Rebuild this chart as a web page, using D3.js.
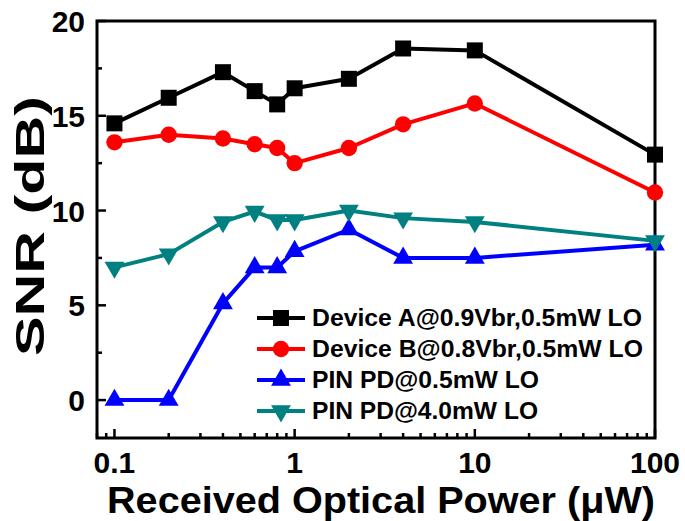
<!DOCTYPE html>
<html><head><meta charset="utf-8">
<script src="https://cdn.jsdelivr.net/npm/d3@7"></script>
<style>body{margin:0;background:#fff}svg{display:block}text{font-family:"Liberation Sans",Arial,sans-serif;font-weight:bold}</style>
</head><body><svg id="c" width="685" height="521"></svg>
<script>
const xA = [0.1,0.2,0.4,0.6,0.8,1,2,4,10,100];
const yA = [14.6,15.95,17.3,16.3,15.6,16.45,16.95,18.55,18.45,12.95];
const xB = [0.1,0.2,0.4,0.6,0.8,1,2,4,10,100];
const yB = [13.6,14.0,13.8,13.5,13.3,12.5,13.3,14.55,15.65,10.95];
const xC = [0.1,0.2,0.4,0.6,0.8,1,2,4,10,100];
const yC = [0,0,5.1,7.0,7.0,7.85,9.0,7.5,7.5,8.2];
const xD = [0.1,0.2,0.4,0.6,0.8,1,2,4,10,100];
const yD = [7.0,7.7,9.4,9.95,9.5,9.5,10.0,9.6,9.4,8.4];
const seriesNames = ["Device A@0.9Vbr,0.5mW LO","Device B@0.8Vbr,0.5mW LO","PIN PD@0.5mW LO","PIN PD@4.0mW LO"];
const xTickLabels = ["0.1","1","10","100"];
const xTickVals = [0.1,1,10,100];
const yTickVals = [0,5,10,15,20];
const xTitle = "Received Optical Power (\u03bcW)";
const yTitle = "SNR (dB)";

const colors = ["#000000","#ff0000","#0000ff","#008080"];
const shapes = ["square","circle","up","down"];
const legendTextWidths = [330,331,227,226];
const L=97,R=655,T=21,B=438;
const svg=d3.select("#c");
const x=d3.scaleLog().domain([0.08,100]).range([L,R]);
const y=d3.scaleLinear().domain([-2,20]).range([B,T]);

// minor ticks
const xMinor=[];
[0.01,0.1,1,10].forEach(d=>{for(let k=2;k<=9;k++){const v=d*k;if(v>=0.08&&v<100&&!xTickVals.includes(v))xMinor.push(v);}});
const g=svg.append("g");
g.selectAll(".xmin").data(xMinor).enter().append("line").attr("x1",d=>x(d)).attr("x2",d=>x(d)).attr("y1",B).attr("y2",B-5).attr("stroke","#000").attr("stroke-width",2.5);
g.selectAll(".xmaj").data(xTickVals).enter().append("line").attr("x1",d=>x(d)).attr("x2",d=>x(d)).attr("y1",B).attr("y2",B-9).attr("stroke","#000").attr("stroke-width",2.5);
const yMinor=[2.5,7.5,12.5,17.5];
g.selectAll(".ymin").data(yMinor).enter().append("line").attr("x1",L).attr("x2",L+5).attr("y1",d=>y(d)).attr("y2",d=>y(d)).attr("stroke","#000").attr("stroke-width",2.5);
g.selectAll(".ymaj").data(yTickVals).enter().append("line").attr("x1",L).attr("x2",L+9).attr("y1",d=>y(d)).attr("y2",d=>y(d)).attr("stroke","#000").attr("stroke-width",2.5);
g.append("rect").attr("x",L).attr("y",T).attr("width",R-L).attr("height",B-T).attr("fill","none").attr("stroke","#000").attr("stroke-width",3);

// tick labels
g.selectAll(".xl").data(xTickVals).enter().append("text").attr("x",d=>x(d)).attr("y",473).attr("text-anchor","middle").attr("font-size",30).text((d,i)=>xTickLabels[i]);
g.selectAll(".yl").data(yTickVals).enter().append("text").attr("x",85).attr("y",d=>y(d)+11).attr("text-anchor","end").attr("font-size",30).text(d=>d);

// titles
svg.append("text").attr("x",381).attr("y",513).attr("text-anchor","middle").attr("font-size",37).attr("textLength",548).attr("lengthAdjust","spacingAndGlyphs").text(xTitle);
svg.append("text").attr("transform","translate(44,226) rotate(-90)").attr("text-anchor","middle").attr("font-size",40).attr("textLength",260).attr("lengthAdjust","spacingAndGlyphs").text(yTitle);

function marker(sel,shape,color){
  const s=d3.symbol().type(shape==="square"?d3.symbolSquare:shape==="circle"?d3.symbolCircle:d3.symbolTriangle).size(shape==="square"?256:shape==="circle"?210:170);
  sel.append("path").attr("d",s()).attr("fill",color).attr("transform",shape==="down"?"rotate(180)":null);
}
const data=[[xA,yA],[xB,yB],[xC,yC],[xD,yD]];
const line=d3.line().x(d=>x(d[0])).y(d=>y(d[1]));
data.forEach(([xs,ys],i)=>{
  const pts=xs.map((v,j)=>[v,ys[j]]);
  svg.append("path").attr("d",line(pts)).attr("fill","none").attr("stroke",colors[i]).attr("stroke-width",4).attr("stroke-linejoin","round");
  svg.selectAll(null).data(pts).enter().append("g").attr("transform",d=>`translate(${x(d[0])},${y(d[1])})`).each(function(){marker(d3.select(this),shapes[i],colors[i]);});
});

// legend
const legY=[318,349,380,411];
seriesNames.forEach((n,i)=>{
  const lg=svg.append("g");
  lg.append("line").attr("x1",257).attr("x2",305).attr("y1",legY[i]).attr("y2",legY[i]).attr("stroke",colors[i]).attr("stroke-width",4);
  const mg=lg.append("g").attr("transform",`translate(281,${legY[i]})`);
  marker(mg,shapes[i],colors[i]);
  lg.append("text").attr("x",312).attr("y",legY[i]+8).attr("font-size",23).attr("textLength",legendTextWidths[i]).attr("lengthAdjust","spacingAndGlyphs").text(n);
});
</script></body></html>
